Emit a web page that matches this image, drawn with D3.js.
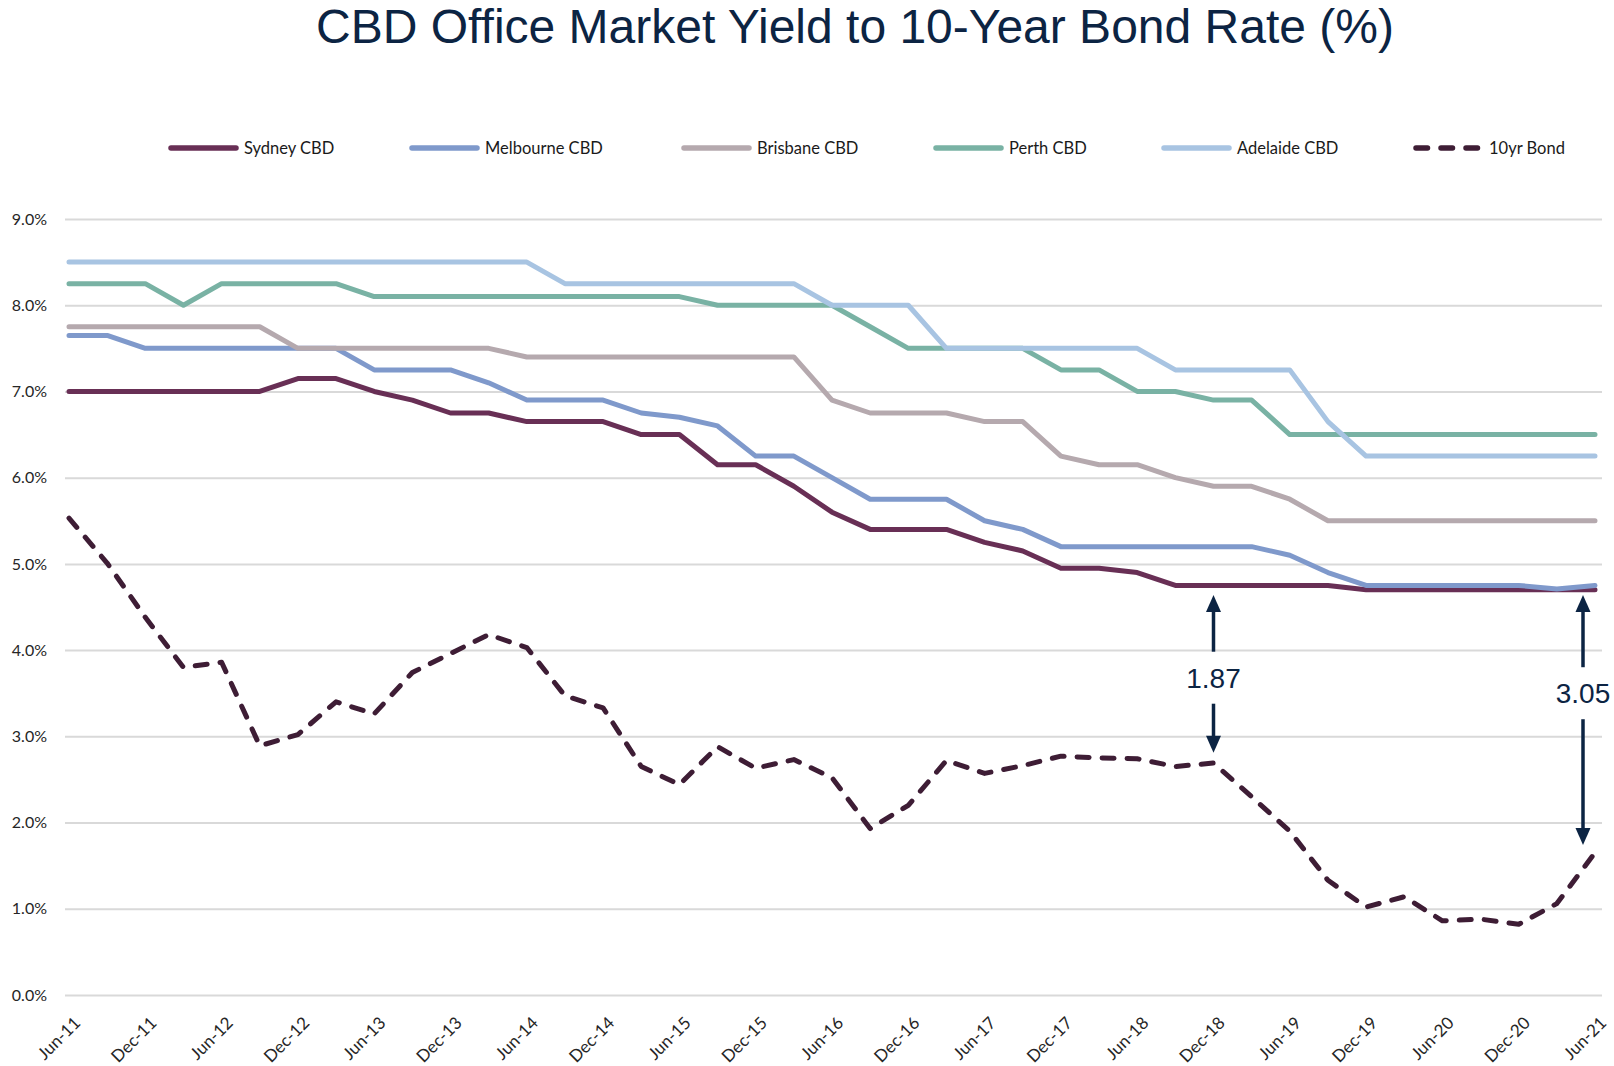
<!DOCTYPE html>
<html>
<head>
<meta charset="utf-8">
<script src="https://cdn.jsdelivr.net/npm/d3@7"></script>
<style>
  html, body { margin: 0; padding: 0; background: #ffffff; }
  svg { display: block; }
</style>
</head>
<body>
<svg id="chart" width="1614" height="1066"></svg>
<script>
// Quarterly observations, Jun-11 to Jun-21
const categories = ["Jun-11","Sep-11","Dec-11","Mar-12","Jun-12","Sep-12","Dec-12","Mar-13",
  "Jun-13","Sep-13","Dec-13","Mar-14","Jun-14","Sep-14","Dec-14","Mar-15","Jun-15","Sep-15",
  "Dec-15","Mar-16","Jun-16","Sep-16","Dec-16","Mar-17","Jun-17","Sep-17","Dec-17","Mar-18",
  "Jun-18","Sep-18","Dec-18","Mar-19","Jun-19","Sep-19","Dec-19","Mar-20","Jun-20","Sep-20",
  "Dec-20","Mar-21","Jun-21"];

// Office market yields (%)
const sydney = [7.0,7.0,7.0,7.0,7.0,7.0,7.15,7.15,7.0,6.9,6.75,6.75,6.65,6.65,6.65,6.5,6.5,6.15,6.15,5.9,
  5.6,5.4,5.4,5.4,5.25,5.15,4.95,4.95,4.9,4.75,4.75,4.75,4.75,4.75,4.7,4.7,4.7,4.7,4.7,4.7,4.7];
const melbourne = [7.65,7.65,7.5,7.5,7.5,7.5,7.5,7.5,7.25,7.25,7.25,7.1,6.9,6.9,6.9,6.75,6.7,6.6,6.25,6.25,
  6.0,5.75,5.75,5.75,5.5,5.4,5.2,5.2,5.2,5.2,5.2,5.2,5.1,4.9,4.75,4.75,4.75,4.75,4.75,4.71,4.75];
const brisbane = [7.75,7.75,7.75,7.75,7.75,7.75,7.5,7.5,7.5,7.5,7.5,7.5,7.4,7.4,7.4,7.4,7.4,7.4,7.4,7.4,
  6.9,6.75,6.75,6.75,6.65,6.65,6.25,6.15,6.15,6.0,5.9,5.9,5.75,5.5,5.5,5.5,5.5,5.5,5.5,5.5,5.5];
const perth = [8.25,8.25,8.25,8.0,8.25,8.25,8.25,8.25,8.1,8.1,8.1,8.1,8.1,8.1,8.1,8.1,8.1,8.0,8.0,8.0,
  8.0,7.75,7.5,7.5,7.5,7.5,7.25,7.25,7.0,7.0,6.9,6.9,6.5,6.5,6.5,6.5,6.5,6.5,6.5,6.5,6.5];
const adelaide = [8.5,8.5,8.5,8.5,8.5,8.5,8.5,8.5,8.5,8.5,8.5,8.5,8.5,8.25,8.25,8.25,8.25,8.25,8.25,8.25,
  8.0,8.0,8.0,7.5,7.5,7.5,7.5,7.5,7.5,7.25,7.25,7.25,7.25,6.65,6.25,6.25,6.25,6.25,6.25,6.25,6.25];
// 10-year government bond rate (%)
const bond10yr = [5.53,5.01,4.38,3.80,3.86,2.89,3.02,3.40,3.26,3.74,3.96,4.18,4.03,3.47,3.33,2.65,2.44,2.88,
  2.63,2.73,2.52,1.93,2.20,2.72,2.57,2.66,2.77,2.75,2.74,2.65,2.69,2.30,1.90,1.33,1.02,1.14,0.86,0.88,
  0.82,1.06,1.65];

const seriesNames = ["Sydney CBD","Melbourne CBD","Brisbane CBD","Perth CBD","Adelaide CBD","10yr Bond"];
const seriesValues = [sydney, melbourne, brisbane, perth, adelaide, bond10yr];
const seriesColors = ["#682f55","#7f99cb","#b5a9ae","#79b2a4","#a8c4e2","#3e1d35"];
const seriesDashed = [false,false,false,false,false,true];

const xTickLabels = ["Jun-11","Dec-11","Jun-12","Dec-12","Jun-13","Dec-13","Jun-14","Dec-14","Jun-15",
  "Dec-15","Jun-16","Dec-16","Jun-17","Dec-17","Jun-18","Dec-18","Jun-19","Dec-19","Jun-20","Dec-20","Jun-21"];
const yTicks = [0,1,2,3,4,5,6,7,8,9];

// Yield-to-bond spread callouts
const spreadLabels = ["1.87","3.05"];
const spreadAt = ["Dec-18","Jun-21"];
const spreadTop = [4.64,4.64];
const spreadBottom = [2.81,1.74];
const spreadLabelLevel = [3.68,3.50];

// ---- layout ----
const svg = d3.select("#chart");
const gridLeft = 65, gridRight = 1602;
const x = d3.scalePoint().domain(categories).range([69, 1595]);
const y = d3.scaleLinear().domain([0, 9]).range([995, 219]);
const navy = "#0c2443";
const labelFont = "Lato, 'Open Sans', sans-serif";

svg.append("rect").attr("width", 1614).attr("height", 1066).attr("fill", "#ffffff");

// Title
svg.append("text")
  .attr("x", 855).attr("y", 43)
  .attr("text-anchor", "middle")
  .attr("font-family", "'Liberation Sans', Arial, sans-serif")
  .attr("font-size", 48)
  .attr("fill", navy)
  .text("CBD Office Market Yield to 10-Year Bond Rate (%)");

// Horizontal gridlines + y labels
const yAxis = svg.append("g")
  .attr("transform", `translate(${gridLeft},0)`)
  .call(d3.axisLeft(y).tickValues(yTicks).tickSize(-(gridRight - gridLeft)).tickPadding(18)
    .tickFormat(d => d.toFixed(1) + "%"));
yAxis.select(".domain").remove();
yAxis.selectAll(".tick line").attr("stroke", "#d9d9d9").attr("stroke-width", 2);
yAxis.selectAll(".tick text")
  .attr("font-family", labelFont).attr("font-size", 16).attr("fill", "#262626");

// Category axis with slanted labels
const xAxis = svg.append("g")
  .attr("transform", `translate(0,${y(0)})`)
  .call(d3.axisBottom(x).tickValues(xTickLabels).tickSize(0));
xAxis.select(".domain").remove();
xAxis.selectAll(".tick text")
  .attr("x", 0).attr("y", 0).attr("dy", 0)
  .attr("text-anchor", "end")
  .attr("transform", "translate(12,29) rotate(-45)")
  .attr("font-family", labelFont).attr("font-size", 17).attr("fill", "#262626");

// Series lines
const line = d3.line()
  .x((d, i) => x(categories[i]))
  .y(d => y(d));

seriesValues.forEach((vals, k) => {
  svg.append("path")
    .datum(vals)
    .attr("d", line)
    .attr("fill", "none")
    .attr("stroke", seriesColors[k])
    .attr("stroke-width", 5)
    .attr("stroke-linejoin", "round")
    .attr("stroke-linecap", "round")
    .attr("stroke-dasharray", seriesDashed[k] ? "12,13" : null);
});

// Legend
const legendX = [168, 409, 681, 933, 1161, 1413];
const legendY = 148;
const legend = svg.append("g");
seriesNames.forEach((name, k) => {
  legend.append("line")
    .attr("x1", legendX[k] + 3).attr("x2", legendX[k] + 68)
    .attr("y1", legendY).attr("y2", legendY)
    .attr("stroke", seriesColors[k]).attr("stroke-width", 5.5)
    .attr("stroke-linecap", "round")
    .attr("stroke-dasharray", seriesDashed[k] ? "11.5,13.5" : null);
  legend.append("text")
    .attr("x", legendX[k] + 76).attr("y", legendY).attr("dy", "0.35em")
    .attr("font-family", labelFont).attr("font-size", 16.5).attr("fill", "#1a1a1a")
    .text(name);
});

// Spread callouts: double arrow broken by its value
function arrowHead(g, cx, tipY, dir) {
  const len = 17, half = 7.5;
  g.append("path")
    .attr("d", `M${cx},${tipY} L${cx - half},${tipY + dir * len} L${cx + half},${tipY + dir * len} Z`)
    .attr("fill", navy);
}
const callouts = svg.append("g");
spreadLabels.forEach((lab, k) => {
  const cx = x(spreadAt[k]) - (k === 1 ? 12 : 0);
  const yTop = y(spreadTop[k]), yBot = y(spreadBottom[k]), yLab = y(spreadLabelLevel[k]);
  const gap = 26;
  callouts.append("line").attr("x1", cx).attr("x2", cx)
    .attr("y1", yTop + 14).attr("y2", yLab - gap)
    .attr("stroke", navy).attr("stroke-width", 3.5);
  callouts.append("line").attr("x1", cx).attr("x2", cx)
    .attr("y1", yLab + gap).attr("y2", yBot - 14)
    .attr("stroke", navy).attr("stroke-width", 3.5);
  arrowHead(callouts, cx, yTop, 1);
  arrowHead(callouts, cx, yBot, -1);
  callouts.append("text")
    .attr("x", cx).attr("y", yLab).attr("dy", "0.36em")
    .attr("text-anchor", "middle")
    .attr("font-family", "'Liberation Sans', Arial, sans-serif")
    .attr("font-size", 28).attr("fill", navy)
    .text(lab);
});
</script>
</body>
</html>
